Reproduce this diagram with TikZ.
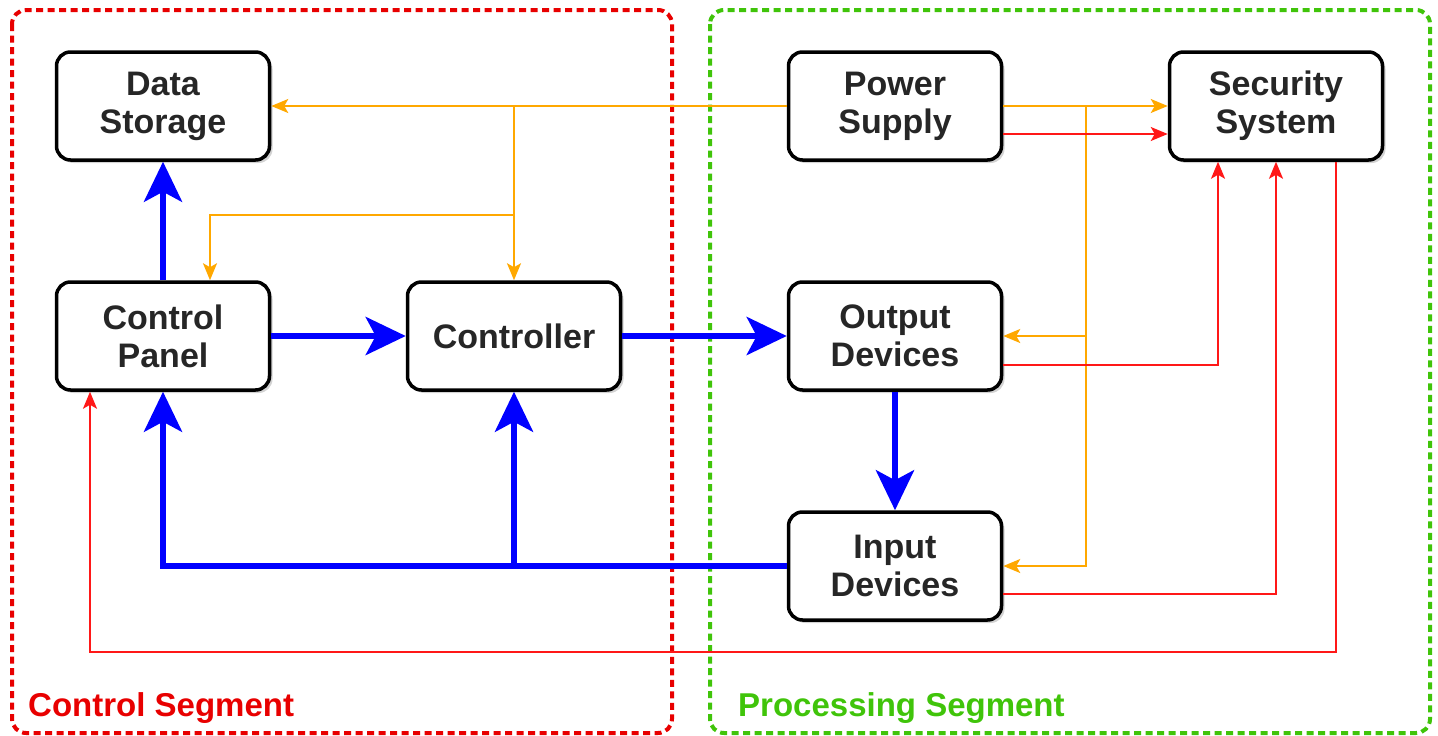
\documentclass[tikz,border=0pt]{standalone}
\usepackage{fontspec}
\setmainfont{Liberation Sans}
\usepackage{tikz}
\usetikzlibrary{arrows.meta,positioning,shadows}
\definecolor{segred}{RGB}{232,0,0}
\definecolor{seggreen}{RGB}{64,196,10}
\definecolor{feedorange}{RGB}{255,168,0}
\definecolor{sigred}{RGB}{255,24,24}
\tikzset{
    %Define style for boxes
    unit/.style={
           rectangle,
           rounded corners=14pt,
           draw=black, line width=3.5pt,
           fill=white,
           minimum width=213pt,
           minimum height=108pt,
           align=center,
           font=\fontsize{34}{38}\selectfont\bfseries,
           text=black!85,
           drop shadow={shadow xshift=3pt,shadow yshift=-3pt,opacity=.35}
           },
    %Define style for segment frames
    segment/.style={
           rounded corners=14pt,
           line width=4pt,
           dash pattern=on 7pt off 4.5pt
           },
    seglabel/.style={
           anchor=base west,
           inner sep=0pt,
           font=\fontsize{33}{38}\selectfont\bfseries
           },
    % Define arrow styles
    bus/.style={
           -{Stealth[length=40pt,width=38pt,inset=10pt]},
           draw=blue, line width=6pt},
    feed/.style={
           -{Stealth[length=17pt,width=14pt,inset=4pt]},
           draw=feedorange, line width=2pt},
    sig/.style={
           -{Stealth[length=17pt,width=14pt,inset=4pt]},
           draw=sigred, line width=2pt}
}

\begin{document}
\begin{tikzpicture}[x=1pt,y=-1pt,node distance=118.5pt]
\useasboundingbox (0,0) rectangle (1438,736);
 %segments
\draw[segment,draw=segred] (12,10) rectangle (672,733);
\draw[segment,draw=seggreen] (710,10) rectangle (1430,733);
\node[seglabel,text=segred] (cs) at (28,716) {Control Segment};
\node[seglabel,text=seggreen] (ps) at (738,716) {Processing Segment};
 %nodes
\node[unit] (2) at (163,336) {Control\\Panel};
\node[unit, above=of 2] (1) {Data\\Storage};
\node[unit, right=134.5pt of 2] (3) {Controller};
\node[unit, right=164.5pt of 3] (6) {Output\\Devices};
\node[unit, above=of 6] (4) {Power\\Supply};
\node[unit, right=164.5pt of 4] (5) {Security\\System};
\node[unit, below=of 6] (7) {Input\\Devices};
 %junctions
\coordinate (a) at (3.north |- 4.west);
\coordinate (b) at (513,215);
\coordinate (c) at (1086,105);
\coordinate (d) at (90,652);
 %power feeds
\draw[feed] (4.west) -- (1.east);
\draw[feed] (a) -- (3.north);
\draw[feed] (b) -| ([xshift=47pt]2.north);
\draw[feed] (4.east) -- (5.west);
\draw[feed] (c) |- (7.east);
\draw[feed] (c |- 6.east) -- (6.east);
 %security signals
\draw[sig] ([yshift=-28pt]4.east) -- ([yshift=-28pt]5.west);
\draw[sig] ([yshift=-29pt]6.east) -| ([xshift=-58pt]5.south);
\draw[sig] ([yshift=-28pt]7.east) -| (5.south);
\draw[sig] ([xshift=60pt]5.south) |- (d) -| ([xshift=-73pt]2.south);
 %data flow
\draw[bus] (2.north) -- (1.south);
\draw[bus] (2.east) -- (3.west);
\draw[bus] (3.east) -- (6.west);
\draw[bus] (6.south) -- (7.north);
\draw[bus] (7.west) -| (2.south);
\draw[bus] (3.south |- 7.west) -- (3.south);
\end{tikzpicture}
\end{document}
